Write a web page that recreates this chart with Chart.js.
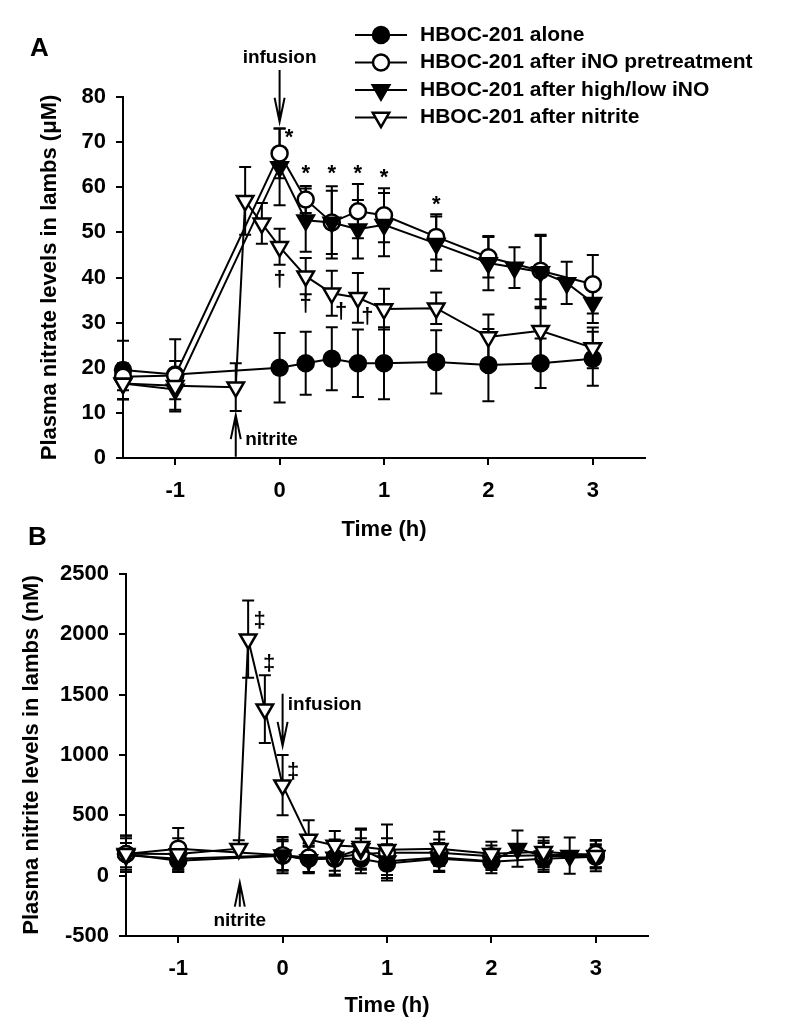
<!DOCTYPE html>
<html>
<head>
<meta charset="utf-8">
<script src="https://cdn.jsdelivr.net/npm/chart.js@4.4.1/dist/chart.umd.min.js"></script>
<style>
  body { margin: 0; background: #fff; }
  .wrap { position: absolute; left: 0; }
  #wrapA { top: 0; }
  #wrapB { top: 515px; }
</style>
</head>
<body>
<div class="wrap" id="wrapA"><canvas id="nitrate" width="800" height="560"></canvas></div>
<div class="wrap" id="wrapB"><canvas id="nitrite" width="800" height="521"></canvas></div>
<script>
// series names
var seriesNames = ['HBOC-201 alone', 'HBOC-201 after iNO pretreatment', 'HBOC-201 after high/low iNO', 'HBOC-201 after nitrite'];

// sample times (h)
var timeAlone = [-1.5, -1, 0, 0.25, 0.5, 0.75, 1, 1.5, 2, 2.5, 3];
var timePre = [-1.5, -1, 0, 0.25, 0.5, 0.75, 1, 1.5, 2, 2.5, 3];
var timeHiLo = [-1.5, -1, 0, 0.25, 0.5, 0.75, 1, 1.5, 2, 2.25, 2.5, 2.75, 3];
var timeNit = [-1.5, -1, -0.42, -0.33, -0.17, 0, 0.25, 0.5, 0.75, 1, 1.5, 2, 2.5, 3];

// panel A: plasma nitrate (uM), mean and SD
var nitrateAlone = [19.5, 18.5, 20, 21, 22, 21, 21, 21.3, 20.6, 21, 22];
var nitrateAloneErr = [6.5, 3, 7.7, 7, 7, 7.5, 8, 7, 8, 5.5, 6];
var nitratePre = [18, 18.3, 67.5, 57.3, 52.2, 54.7, 53.8, 49, 44.5, 41.5, 38.5];
var nitratePreErr = [3, 8, 5.5, 3, 8, 6, 6, 5, 4.5, 8, 6.5];
var nitrateHiLo = [16.5, 15.2, 64.5, 52.7, 52.2, 50.7, 51.7, 47.5, 43.2, 42.2, 41.2, 38.8, 34.4];
var nitrateHiLoErr = [3.5, 4.5, 8.5, 7, 7, 6.5, 7, 6, 6, 4.5, 8, 4.7, 4.5];
var nitrateNit = [16.5, 16, 15.7, 57, 52, 46.8, 40.3, 36.5, 35.5, 33, 33.2, 26.8, 28.2, 24.4];
var nitrateNitErr = [3.5, 3, 5.3, 7.5, 4.5, 4, 4, 5, 5.5, 4.5, 3.5, 5, 7, 4.5];

// panel B: plasma nitrite (nM), mean and SD
var nitriteAlone = [180, 124, 166, 140, 140, 140, 100, 140, 116, 140, 157];
var nitriteAloneErr = [130, 90, 120, 110, 130, 120, 140, 100, 70, 90, 90];
var nitritePre = [180, 224, 170, 150, 150, 180, 190, 190, 160, 170, 180];
var nitritePreErr = [150, 170, 150, 120, 110, 130, 120, 110, 90, 100, 110];
var nitriteHiLo = [170, 140, 170, 130, 150, 220, 120, 150, 120, 224, 160, 166, 160];
var nitriteHiLoErr = [100, 110, 130, 110, 150, 160, 140, 120, 100, 150, 130, 150, 100];
var nitriteNit = [182, 180, 224, 1960, 1380, 750, 300, 250, 240, 215, 224, 182, 199, 166];
var nitriteNitErr = [150, 130, 70, 320, 280, 250, 160, 120, 150, 210, 140, 100, 120, 130];

// tick labels
var timeTicks = [-1, 0, 1, 2, 3];
var nitrateTicks = [0, 10, 20, 30, 40, 50, 60, 70, 80];
var nitriteTicks = [-500, 0, 500, 1000, 1500, 2000, 2500];

// annotations (data coordinates)
var nitrateArrows = [{x: 0, from: 86, to: 74.5}, {x: -0.42, from: 0.3, to: 9.5}];
var nitrateNotes = [
  {x: 0, y: 88.7, text: 'infusion', align: 'center', font: 'bold 19px "Liberation Sans", Arial'},
  {x: -0.33, y: 4, text: 'nitrite', align: 'left', font: 'bold 19px "Liberation Sans", Arial'},
  {x: 0.09, y: 71, text: '*'}, {x: 0.25, y: 63, text: '*'}, {x: 0.5, y: 63, text: '*'},
  {x: 0.75, y: 63, text: '*'}, {x: 1, y: 62, text: '*'}, {x: 1.5, y: 56, text: '*'},
  {x: 0, y: 39.5, text: '†'}, {x: 0.25, y: 34, text: '†'}, {x: 0.59, y: 32.4, text: '†'}, {x: 0.84, y: 31.3, text: '†'}
];
var nitriteArrows = [{x: 0, from: 1507, to: 1076}, {x: -0.41, from: -257, to: -58}];
var nitriteNotes = [
  {x: 0.05, y: 1415, text: 'infusion', align: 'left', font: 'bold 19px "Liberation Sans", Arial'},
  {x: -0.41, y: -373, text: 'nitrite', align: 'center', font: 'bold 19px "Liberation Sans", Arial'},
  {x: -0.22, y: 2110, text: '‡'}, {x: -0.13, y: 1755, text: '‡'}, {x: 0.1, y: 860, text: '‡'}
];

var FAMILY = '"Liberation Sans", Arial, Helvetica, sans-serif';

function points(t, v) {
  return t.map(function (x, i) { return {x: x, y: v[i]}; });
}

function series(name, t, v, err, style, filled, order) {
  return {
    label: name,
    data: points(t, v),
    errors: err,
    borderColor: '#000',
    borderWidth: 2,
    pointStyle: style,
    pointRadius: style == 'circle' ? 8 : 9.5,
    pointRotation: style == 'triangle' ? 180 : 0,
    pointBackgroundColor: filled ? '#000' : '#fff',
    pointBorderColor: '#000',
    pointBorderWidth: 2.5,
    fill: false,
    tension: 0,
    clip: false,
    order: order
  };
}

// error bars drawn under the markers
var errorBars = {
  id: 'errorBars',
  beforeDatasetsDraw: function (chart) {
    var ctx = chart.ctx, ys = chart.scales.y;
    ctx.save();
    ctx.strokeStyle = '#000';
    ctx.lineWidth = 2;
    chart.data.datasets.forEach(function (ds, i) {
      var meta = chart.getDatasetMeta(i);
      ds.errors.forEach(function (e, j) {
        var px = meta.data[j].x, v = ds.data[j].y;
        var top = ys.getPixelForValue(v + e), bot = ys.getPixelForValue(v - e);
        ctx.beginPath();
        ctx.moveTo(px, top); ctx.lineTo(px, bot);
        ctx.moveTo(px - 6, top); ctx.lineTo(px + 6, top);
        ctx.moveTo(px - 6, bot); ctx.lineTo(px + 6, bot);
        ctx.stroke();
      });
    });
    ctx.restore();
  }
};

// arrows, labels and significance marks
var notes = {
  id: 'notes',
  afterDatasetsDraw: function (chart, args, opts) {
    var ctx = chart.ctx, xs = chart.scales.x, ys = chart.scales.y;
    ctx.save();
    ctx.strokeStyle = '#000';
    ctx.fillStyle = '#000';
    ctx.lineWidth = 2;
    (opts.arrows || []).forEach(function (a) {
      var px = xs.getPixelForValue(a.x);
      var y0 = ys.getPixelForValue(a.from), y1 = ys.getPixelForValue(a.to);
      var dir = y1 > y0 ? 1 : -1;
      ctx.beginPath();
      ctx.moveTo(px, y0); ctx.lineTo(px, y1);
      ctx.moveTo(px - 5, y1 - dir * 24); ctx.lineTo(px, y1); ctx.lineTo(px + 5, y1 - dir * 24);
      ctx.stroke();
    });
    ctx.textBaseline = 'middle';
    (opts.labels || []).forEach(function (n) {
      ctx.font = n.font || ('bold 22px ' + FAMILY);
      ctx.textAlign = n.align || 'center';
      ctx.fillText(n.text, xs.getPixelForValue(n.x), ys.getPixelForValue(n.y));
    });
    if (opts.panel) {
      ctx.font = 'bold 26px ' + FAMILY;
      ctx.textAlign = 'left';
      ctx.fillText(opts.panel.text, opts.panel.x, opts.panel.y);
    }
    ctx.restore();
  }
};

// legend with line + marker like the original figure
var lineLegend = {
  id: 'lineLegend',
  afterDraw: function (chart, args, opts) {
    if (!opts.show) return;
    var ctx = chart.ctx;
    ctx.save();
    chart.data.datasets.forEach(function (ds, i) {
      var y = opts.top + i * opts.gap;
      ctx.strokeStyle = '#000';
      ctx.lineWidth = 2;
      ctx.beginPath();
      ctx.moveTo(opts.left, y); ctx.lineTo(opts.left + 52, y);
      ctx.stroke();
      ctx.fillStyle = ds.pointBackgroundColor;
      ctx.lineWidth = 2.5;
      Chart.helpers.drawPoint(ctx, {
        pointStyle: ds.pointStyle, radius: ds.pointRadius, rotation: ds.pointRotation, borderWidth: 2.5
      }, opts.left + 26, y);
      ctx.fillStyle = '#000';
      ctx.font = 'bold 21px ' + FAMILY;
      ctx.textAlign = 'left';
      ctx.textBaseline = 'middle';
      ctx.fillText(ds.label, opts.left + 65, y);
    });
    ctx.restore();
  }
};

function axes(yMin, yMax, yTicks, yTitle, yWidth, titlePad, xHeight) {
  var font = {family: FAMILY, size: 22, weight: 'bold'};
  var plain = function (v) { return String(v); };
  return {
    x: {
      type: 'linear', min: -1.5, max: 3.5,
      afterBuildTicks: function (s) { s.ticks = timeTicks.map(function (v) { return {value: v}; }); },
      afterFit: function (s) { s.height = xHeight; },
      grid: {display: true, drawOnChartArea: false, drawTicks: true, tickLength: 7, color: '#000', lineWidth: 2},
      border: {display: true, color: '#000', width: 2},
      ticks: {color: '#000', font: font, padding: 13, maxRotation: 0, callback: plain},
      title: {display: true, text: 'Time (h)', color: '#000', font: font, padding: {top: 0, bottom: 17}}
    },
    y: {
      type: 'linear', min: yMin, max: yMax,
      afterBuildTicks: function (s) { s.ticks = yTicks.map(function (v) { return {value: v}; }); },
      afterFit: function (s) { s.width = yWidth; },
      grid: {display: true, drawOnChartArea: false, drawTicks: true, tickLength: 7, color: '#000', lineWidth: 2},
      border: {display: true, color: '#000', width: 2},
      ticks: {color: '#000', font: font, padding: 10, callback: plain},
      title: {display: true, text: yTitle, color: '#000', font: font, padding: {top: titlePad, bottom: 0}}
    }
  };
}

var nitrate = new Chart(document.getElementById('nitrate'), {
  type: 'line',
  data: {
    datasets: [
      series(seriesNames[0], timeAlone, nitrateAlone, nitrateAloneErr, 'circle', true, 3),
      series(seriesNames[1], timePre, nitratePre, nitratePreErr, 'circle', false, 2),
      series(seriesNames[2], timeHiLo, nitrateHiLo, nitrateHiLoErr, 'triangle', true, 1),
      series(seriesNames[3], timeNit, nitrateNit, nitrateNitErr, 'triangle', false, 0)
    ]
  },
  options: {
    responsive: false,
    animation: false,
    events: [],
    layout: {padding: {left: 0, top: 97, right: 155, bottom: 0}},
    scales: axes(0, 80, nitrateTicks, 'Plasma nitrate levels in lambs (μM)', 123, 37, 102),
    plugins: {
      legend: {display: false},
      tooltip: {enabled: false},
      notes: {arrows: nitrateArrows, labels: nitrateNotes, panel: {text: 'A', x: 30, y: 49}},
      lineLegend: {show: true, left: 355, top: 35, gap: 27.5}
    }
  },
  plugins: [errorBars, notes, lineLegend]
});

var nitrite = new Chart(document.getElementById('nitrite'), {
  type: 'line',
  data: {
    datasets: [
      series(seriesNames[0], timeAlone, nitriteAlone, nitriteAloneErr, 'circle', true, 3),
      series(seriesNames[1], timePre, nitritePre, nitritePreErr, 'circle', false, 2),
      series(seriesNames[2], timeHiLo, nitriteHiLo, nitriteHiLoErr, 'triangle', true, 1),
      series(seriesNames[3], timeNit, nitriteNit, nitriteNitErr, 'triangle', false, 0)
    ]
  },
  options: {
    responsive: false,
    animation: false,
    events: [],
    layout: {padding: {left: 0, top: 59, right: 152, bottom: 0}},
    scales: axes(-500, 2500, nitriteTicks, 'Plasma nitrite levels in lambs (nM)', 126, 19, 100),
    plugins: {
      legend: {display: false},
      tooltip: {enabled: false},
      notes: {arrows: nitriteArrows, labels: nitriteNotes, panel: {text: 'B', x: 28, y: 23}},
      lineLegend: {show: false}
    }
  },
  plugins: [errorBars, notes, lineLegend]
});
</script>
</body>
</html>
